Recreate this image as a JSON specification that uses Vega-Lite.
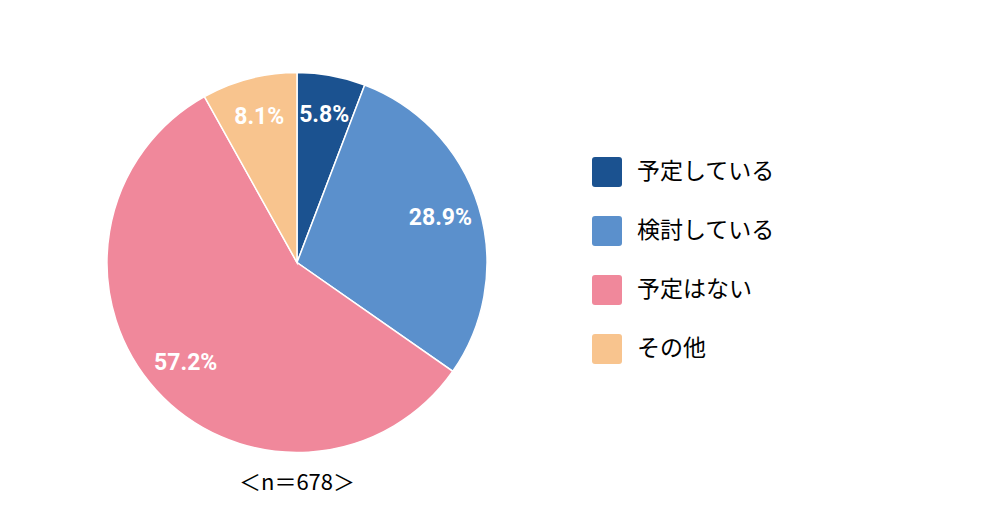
{
  "$schema": "https://vega.github.io/schema/vega-lite/v6.json",
  "width": 594,
  "height": 525,
  "padding": 0,
  "background": "white",
  "view": {"stroke": null},
  "title": {
    "text": "＜n＝678＞",
    "orient": "bottom",
    "anchor": "middle",
    "offset": -52,
    "font": "Noto Sans CJK JP",
    "fontSize": 22,
    "fontWeight": "normal",
    "color": "#000000"
  },
  "data": {
    "values": [
      {"回答": "予定している", "割合": 0.058, "順": 1},
      {"回答": "検討している", "割合": 0.289, "順": 2},
      {"回答": "予定はない", "割合": 0.572, "順": 3},
      {"回答": "その他", "割合": 0.081, "順": 4}
    ]
  },
  "encoding": {
    "theta": {"field": "割合", "type": "quantitative", "stack": true},
    "order": {"field": "順", "type": "quantitative"},
    "color": {
      "field": "回答",
      "type": "nominal",
      "sort": null,
      "scale": {
        "domain": ["予定している", "検討している", "予定はない", "その他"],
        "range": ["#1B5290", "#5B90CC", "#F0889B", "#F8C48E"]
      },
      "legend": {
        "title": null,
        "orient": "none",
        "legendX": 592,
        "legendY": 157,
        "symbolType": "M-0.8,-1H0.8Q1,-1,1,-0.8V0.8Q1,1,0.8,1H-0.8Q-1,1,-1,0.8V-0.8Q-1,-1,-0.8,-1Z",
        "symbolSize": 900,
        "symbolOpacity": 1,
        "symbolStrokeWidth": 0,
        "labelFont": "Noto Sans CJK JP",
        "labelFontSize": 23,
        "labelColor": "#000000",
        "labelOffset": 15,
        "rowPadding": 29,
        "labelLimit": 300
      }
    }
  },
  "layer": [
    {
      "mark": {"type": "arc", "outerRadius": 190, "stroke": "white", "strokeWidth": 1.5}
    },
    {
      "mark": {
        "type": "text",
        "radius": 150,
        "font": "Roboto",
        "fontSize": 23,
        "fontWeight": "bold",
        "align": "center",
        "baseline": "middle"
      },
      "encoding": {
        "text": {"field": "割合", "type": "quantitative", "format": ".1%"},
        "color": {"value": "white"}
      }
    }
  ]
}
